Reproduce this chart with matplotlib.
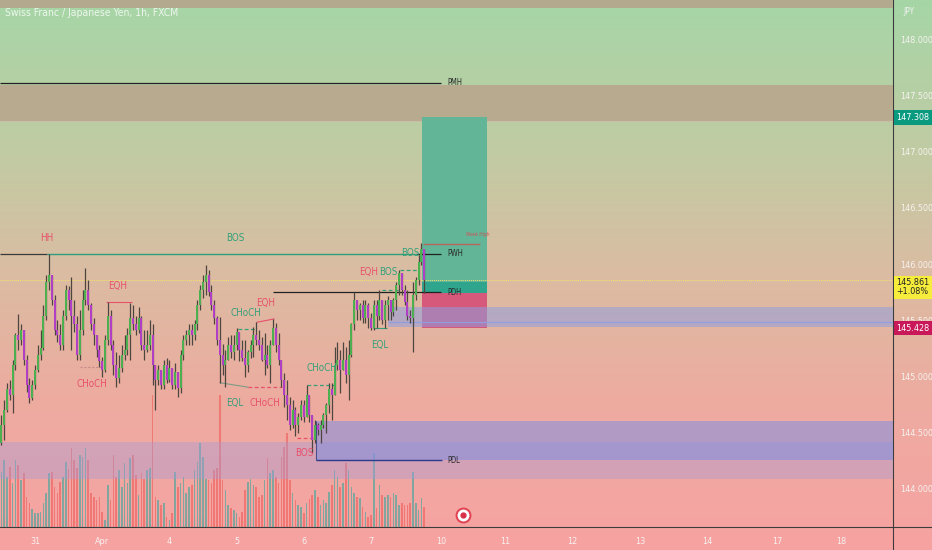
import matplotlib
matplotlib.use("Agg")
import matplotlib.pyplot as plt
import numpy as np
from matplotlib.colors import LinearSegmentedColormap
from matplotlib.patches import Rectangle
from matplotlib.lines import Line2D

plt.rcParams['font.family'] = ['DejaVu Sans']
plt.rcParams['font.stretch'] = 'condensed'

# CHF/JPY 1h candles (bar 0 = first bar on the left)
first_open = 144.40
closes = [144.56, 144.70, 144.88, 144.83, 145.10, 145.37, 145.32, 145.41, 145.14, 144.92,
          144.80, 144.92, 145.05, 145.19, 145.25, 145.54, 145.84, 145.90, 145.68, 145.41,
          145.37, 145.28, 145.54, 145.77, 145.68, 145.54, 145.46, 145.19, 145.41, 145.68,
          145.77, 145.63, 145.46, 145.37, 145.23, 145.13, 145.05, 145.32, 145.54, 145.28,
          145.10, 144.98, 145.07, 145.19, 145.23, 145.37, 145.52, 145.46, 145.41, 145.52,
          145.28, 145.23, 145.28, 145.37, 145.10, 144.96, 145.05, 144.92, 145.10, 144.96,
          145.07, 144.92, 145.04, 144.89, 145.19, 145.32, 145.37, 145.41, 145.37, 145.46,
          145.63, 145.77, 145.84, 145.90, 145.75, 145.63, 145.52, 145.32, 145.19, 145.10,
          145.14, 145.28, 145.21, 145.28, 145.39, 145.23, 145.16, 145.10, 145.21, 145.28,
          145.37, 145.32, 145.28, 145.14, 145.19, 145.10, 145.28, 145.43, 145.28, 145.14,
          144.96, 144.83, 144.74, 144.56, 144.70, 144.56, 144.63, 144.74, 144.63, 144.83,
          144.65, 144.43, 144.56, 144.52, 144.56, 144.65, 144.74, 144.88, 144.83, 145.10,
          145.14, 145.05, 145.14, 145.01, 145.19, 145.46, 145.68, 145.59, 145.63, 145.52,
          145.63, 145.52, 145.43, 145.63, 145.54, 145.68, 145.50, 145.63, 145.68, 145.57,
          145.68, 145.81, 145.92, 145.77, 145.66, 145.54, 145.52, 145.72, 145.86, 146.02,
          146.13, 145.86]
highs = [144.65, 144.79, 144.94, 144.96, 145.14, 145.38, 145.55, 145.46, 145.32, 145.19,
         144.98, 144.96, 145.10, 145.28, 145.41, 145.63, 145.90, 146.09, 145.88, 145.72,
         145.50, 145.46, 145.59, 145.81, 145.80, 145.88, 145.68, 145.54, 145.59, 145.77,
         145.96, 145.86, 145.65, 145.52, 145.37, 145.28, 145.17, 145.37, 145.66, 145.59,
         145.32, 145.21, 145.19, 145.28, 145.37, 145.43, 145.65, 145.63, 145.54, 145.62,
         145.54, 145.41, 145.41, 145.50, 145.46, 145.08, 145.10, 145.03, 145.14, 145.16,
         145.14, 145.05, 145.12, 145.01, 145.23, 145.37, 145.41, 145.46, 145.46, 145.50,
         145.68, 145.81, 145.90, 145.99, 145.95, 145.81, 145.68, 145.54, 145.53, 145.29,
         145.23, 145.35, 145.37, 145.37, 145.43, 145.28, 145.32, 145.32, 145.23, 145.32,
         145.44, 145.48, 145.41, 145.35, 145.38, 145.28, 145.32, 145.51, 145.47, 145.38,
         145.14, 145.03, 144.96, 144.81, 144.79, 144.72, 144.67, 144.79, 144.79, 144.92,
         144.79, 144.61, 144.61, 144.58, 144.61, 144.67, 144.76, 144.94, 144.94, 145.26,
         145.30, 145.23, 145.30, 145.26, 145.32, 145.47, 145.75, 145.68, 145.65, 145.68,
         145.68, 145.65, 145.56, 145.68, 145.68, 145.77, 145.65, 145.68, 145.71, 145.68,
         145.70, 145.84, 145.95, 145.90, 145.81, 145.77, 145.59, 145.84, 145.88, 146.08,
         146.19, 146.13]
lows = [144.38, 144.43, 144.68, 144.79, 144.67, 145.05, 145.23, 145.28, 145.10, 144.86,
        144.76, 144.79, 144.88, 145.04, 145.14, 145.23, 145.50, 145.77, 145.63, 145.37,
        145.30, 145.23, 145.23, 145.50, 145.59, 145.23, 145.39, 145.14, 145.14, 145.37,
        145.63, 145.59, 145.41, 145.28, 145.17, 145.08, 144.99, 145.04, 145.28, 145.23,
        145.01, 144.90, 144.94, 145.04, 145.14, 145.19, 145.14, 145.41, 145.37, 145.38,
        145.23, 145.14, 145.21, 145.23, 144.92, 144.70, 144.92, 144.88, 144.88, 144.94,
        144.95, 144.88, 144.88, 144.81, 144.85, 145.14, 145.28, 145.28, 145.28, 145.32,
        145.41, 145.59, 145.70, 145.72, 145.71, 145.59, 145.46, 145.28, 144.94, 145.01,
        144.90, 145.14, 145.16, 145.14, 145.23, 145.13, 145.13, 144.99, 145.04, 145.16,
        145.17, 145.28, 145.23, 145.13, 145.01, 145.07, 144.94, 145.28, 145.21, 145.10,
        144.90, 144.72, 144.61, 144.52, 144.54, 144.46, 144.49, 144.61, 144.59, 144.65,
        144.59, 144.31, 144.40, 144.47, 144.40, 144.54, 144.49, 144.67, 144.61, 144.86,
        145.05, 144.85, 145.08, 144.94, 144.79, 145.17, 145.41, 145.50, 145.50, 145.47,
        145.47, 145.43, 145.41, 145.41, 145.43, 145.50, 145.46, 145.43, 145.50, 145.50,
        145.54, 145.59, 145.72, 145.72, 145.63, 145.50, 145.47, 145.21, 145.68, 145.81,
        145.99, 145.74]
volume = [55, 67, 50, 60, 44, 67, 62, 47, 54, 30, 24, 18, 14, 14, 15, 24, 34, 54, 55, 40,
          34, 45, 50, 65, 58, 79, 67, 59, 72, 70, 79, 67, 34, 30, 27, 30, 15, 7, 42, 27,
          72, 50, 57, 40, 64, 44, 69, 72, 52, 32, 54, 48, 57, 59, 132, 30, 27, 22, 24, 10,
          7, 14, 55, 40, 44, 50, 34, 40, 42, 57, 65, 84, 70, 48, 47, 44, 57, 59, 132, 47,
          37, 22, 19, 17, 14, 10, 15, 37, 45, 48, 42, 40, 30, 32, 47, 69, 54, 57, 50, 44,
          70, 80, 94, 47, 34, 27, 22, 20, 14, 24, 28, 32, 37, 30, 22, 27, 24, 35, 42, 57,
          50, 40, 44, 64, 57, 40, 34, 30, 29, 20, 15, 10, 12, 74, 19, 42, 32, 30, 32, 30,
          34, 32, 22, 24, 22, 22, 24, 55, 24, 17, 29, 20]

# x axis: bar index of each day's midnight
day_labels = ['31', 'Apr', '4', '5', '6', '7', '10', '11', '12', '13', '14', '17', '18']
day_bars = [12, 36, 60, 84, 108, 132, 157, 180, 204, 228, 252, 277, 300]

# levels
last_price = 145.861
last_change = '+1.08%'
take_profit = 147.308
entry = 145.74
stop_loss = 145.428
pwh = 146.09
pdh = 145.75
pdl = 144.25
pmh = 147.62
weak_high = 146.18

opens = [first_open] + closes[:-1]
n = len(closes)
x = np.arange(n)

GREEN_TXT = '#33a07a'
RED_TXT = '#e8506a'

fig = plt.figure(figsize=(9.32, 5.5), dpi=100)

# gradient background
bg = fig.add_axes([0, 0, 1, 1])
bg.axis('off')
cmap = LinearSegmentedColormap.from_list('bg', [(0, '#a6d6a6'), (0.3, '#c3caa3'), (0.5, '#dbbca2'),
                                                (0.72, '#edaca0'), (1, '#f7a2a2')])
bg.imshow(np.linspace(0, 1, 256).reshape(-1, 1), aspect='auto', cmap=cmap, extent=[0, 1, 0, 1])

rect = [0, 23 / 550, 893 / 932, 527 / 550]
xlim = (-0.5, 318.4)
ylim = (143.652, 148.357)

# volume pane
vax = fig.add_axes(rect)
vax.set_zorder(1)
vax.patch.set_alpha(0)
vcol = ['#26a69a' if c >= o else '#ef5350' for o, c in zip(opens, closes)]
vax.bar(x, volume, width=0.6, color=vcol, alpha=0.55)
vax.set_xlim(*xlim)
vax.set_ylim(0, max(volume) * 4)
vax.axis('off')

ax = fig.add_axes(rect)
ax.set_zorder(2)
ax.patch.set_alpha(0)
ax.set_xlim(*xlim)
ax.set_ylim(*ylim)

R = xlim[1]
# zones
ax.add_patch(Rectangle((-0.5, 148.29), R + 0.5, 1, fc='#b3a98f', ec='none', zorder=1))
ax.add_patch(Rectangle((-0.5, 147.28), R + 0.5, 0.32, fc='#b8aa8f', ec='none', zorder=1))
ax.hlines(147.28, -0.5, R, colors='#c9bfa8', lw=0.8, zorder=1)
ax.add_patch(Rectangle((-0.5, 144.08), R + 0.5, 0.33, fc='#a59ad8', ec='none', alpha=0.4, zorder=1))
ax.add_patch(Rectangle((112.4, pdl), R - 112.4, 0.35, fc='#7f8ee0', ec='none', alpha=0.55, zorder=1))
ax.vlines(112.4, pdl, pdl + 0.35, colors='#4a4f8a', lw=0.8, zorder=2)

# long position box
ax.add_patch(Rectangle((150.2, entry), 23.2, take_profit - entry, fc='#62b596', ec='none', zorder=2))
ax.add_patch(Rectangle((150.2, entry), 23.2, 0.10, fc='#2ea58c', ec='none', zorder=2))
ax.add_patch(Rectangle((150.2, stop_loss), 23.2, entry - stop_loss, fc='#d6587a', ec='none', zorder=2))
ax.add_patch(Rectangle((138.1, 145.44), R - 138.1, 0.18, fc='#8f9ee0', ec='none', alpha=0.55, zorder=3))
ax.hlines(145.48, 138.1, R, colors='#8f9ee0', lw=0.8, zorder=3)

# current price line
ax.axhline(last_price, color='#f3e46a', lw=0.7, ls=(0, (1, 1)), zorder=3)

# key levels
ax.hlines(pmh, -0.5, 157, colors='#222222', lw=0.9, zorder=4)
ax.hlines(pwh, -0.5, 16.3, colors='#3a3a3a', lw=0.9, zorder=4)
ax.hlines(pwh, 16.3, 151, colors='#2f9e7c', lw=1.0, zorder=4)
ax.hlines(pwh, 148.4, 157, colors='#222222', lw=0.9, zorder=4)
ax.hlines(pdh, 97, 157, colors='#222222', lw=0.9, zorder=4)
ax.hlines(pdl, 112.4, 157.4, colors='#2c3a8a', lw=1.0, zorder=4)
ax.hlines(weak_high, 150.6, 170.9, colors='#b8675f', lw=1.0, zorder=4)

# structure lines
ax.hlines(145.66, 37.4, 46.6, colors=RED_TXT, lw=0.8, zorder=4)
ax.hlines(145.08, 28.1, 36.3, colors='#c98a8a', lw=0.8, ls=(0, (2, 1.5)), zorder=4)
ax.hlines(145.42, 84.5, 90.6, colors=GREEN_TXT, lw=0.9, ls=(0, (3, 2)), zorder=4)
ax.plot([91.3, 97.4], [145.48, 145.51], color=RED_TXT, lw=0.8, zorder=4)
ax.plot([78.1, 88.1], [144.94, 144.90], color='#7f9a86', lw=0.8, zorder=4)
ax.hlines(144.90, 88.1, 100.2, colors=RED_TXT, lw=0.9, ls=(0, (3, 2)), zorder=4)
ax.hlines(144.45, 105.6, 111.3, colors=RED_TXT, lw=0.9, ls=(0, (3, 2)), zorder=4)
ax.hlines(144.92, 109.1, 119.1, colors=GREEN_TXT, lw=0.9, ls=(0, (3, 2)), zorder=4)
ax.hlines(145.43, 132.7, 137.7, colors=GREEN_TXT, lw=0.8, zorder=4)
ax.hlines(145.77, 135.9, 142.4, colors=GREEN_TXT, lw=0.9, ls=(0, (3, 2)), zorder=4)
ax.hlines(145.95, 142.4, 148.4, colors=GREEN_TXT, lw=0.9, ls=(0, (3, 2)), zorder=4)

# candles
hi = np.maximum(np.maximum(highs, opens), closes)
lo = np.minimum(np.minimum(lows, opens), closes)
ax.vlines(x, lo, hi, colors='#4d4540', lw=0.9, zorder=5)
body = np.array(closes) - np.array(opens)
body = np.where(np.abs(body) < 0.01, 0.01, body)
ccol = ['#4caf50' if c >= o else '#b03fc6' for o, c in zip(opens, closes)]
ax.bar(x, body, bottom=opens, width=0.7, color=ccol, zorder=6)

# structure labels
labels = [
    ('HH', 16.3, 146.23, RED_TXT), ('BOS', 83.4, 146.23, GREEN_TXT),
    ('EQH', 41.6, 145.80, RED_TXT), ('CHoCH', 32.4, 144.93, RED_TXT),
    ('CHoCH', 87.4, 145.56, GREEN_TXT), ('EQH', 94.5, 145.65, RED_TXT),
    ('EQL', 83.4, 144.76, GREEN_TXT), ('CHoCH', 94.1, 144.76, RED_TXT),
    ('BOS', 108.1, 144.31, RED_TXT), ('CHoCH', 114.5, 145.07, GREEN_TXT),
    ('EQL', 135.2, 145.28, GREEN_TXT), ('EQH', 131.3, 145.93, RED_TXT),
    ('BOS', 138.1, 145.93, GREEN_TXT), ('BOS', 145.9, 146.10, GREEN_TXT),
]
for s, lx, ly, col in labels:
    ax.text(lx, ly, s, color=col, fontsize=7, ha='center', va='center', zorder=7)

for s, ly in [('PMH', pmh), ('PWH', pwh), ('PDH', pdh), ('PDL', pdl)]:
    ax.text(159.1, ly, s, color='#2a2a2a', fontsize=5.5, ha='left', va='center', zorder=7)
ax.text(170.2, weak_high + 0.08, 'Weak High', color='#d0505a', fontsize=3.5, ha='center',
        va='center', zorder=7)

# event marker
ax.plot(164.9, 143.76, 'o', ms=10, mfc='white', mec='#e04050', mew=1.4, zorder=7)
ax.plot(164.9, 143.76, 'o', ms=3.5, color='#d83048', zorder=8)

# axes styling
for sp in ax.spines.values():
    sp.set_visible(False)
ax.yaxis.tick_right()
yt = np.arange(144.0, 148.01, 0.5)
ax.set_yticks(yt, [f'{v:.3f}' for v in yt])
ax.set_xticks(day_bars, day_labels)
ax.tick_params(axis='y', length=0, pad=5, labelsize=6.5, colors='#f6f2f0')
ax.tick_params(axis='x', length=0, pad=7, labelsize=6.5, colors='#f6f2f0')

# price tags on the scale
tr = ax.get_yaxis_transform()
tag = dict(transform=tr, fontsize=6.5, va='center', ha='left', zorder=9, clip_on=False)
ax.text(1.004, take_profit, f'{take_profit:.3f}', color='white',
        bbox=dict(boxstyle='square,pad=0.3', fc='#0a9a80', ec='none'), **tag)
ax.text(1.004, last_price - 0.07, f'{last_price:.3f}\n{last_change}', color='#222222',
        linespacing=1.0, bbox=dict(boxstyle='square,pad=0.3', fc='#f5ec3c', ec='none'), **tag)
ax.text(1.004, stop_loss, f'{stop_loss:.3f}', color='white',
        bbox=dict(boxstyle='square,pad=0.3', fc='#c8185a', ec='none'), **tag)

# frame lines
fig.add_artist(Line2D([893 / 932, 893 / 932], [0, 1], color='#3c3c3c', lw=0.8))
fig.add_artist(Line2D([0, 1], [23 / 550, 23 / 550], color='#3c3c3c', lw=0.8))

fig.text(5 / 932, 1 - 13 / 550, 'Swiss Franc / Japanese Yen, 1h, FXCM', fontsize=7.5,
         color='#eef6ee', va='center', ha='left')
fig.text(903 / 932, 1 - 12 / 550, 'JPY', fontsize=6, color='#f2f2f2', va='center', ha='left')

fig.savefig('out.png', dpi=100)
